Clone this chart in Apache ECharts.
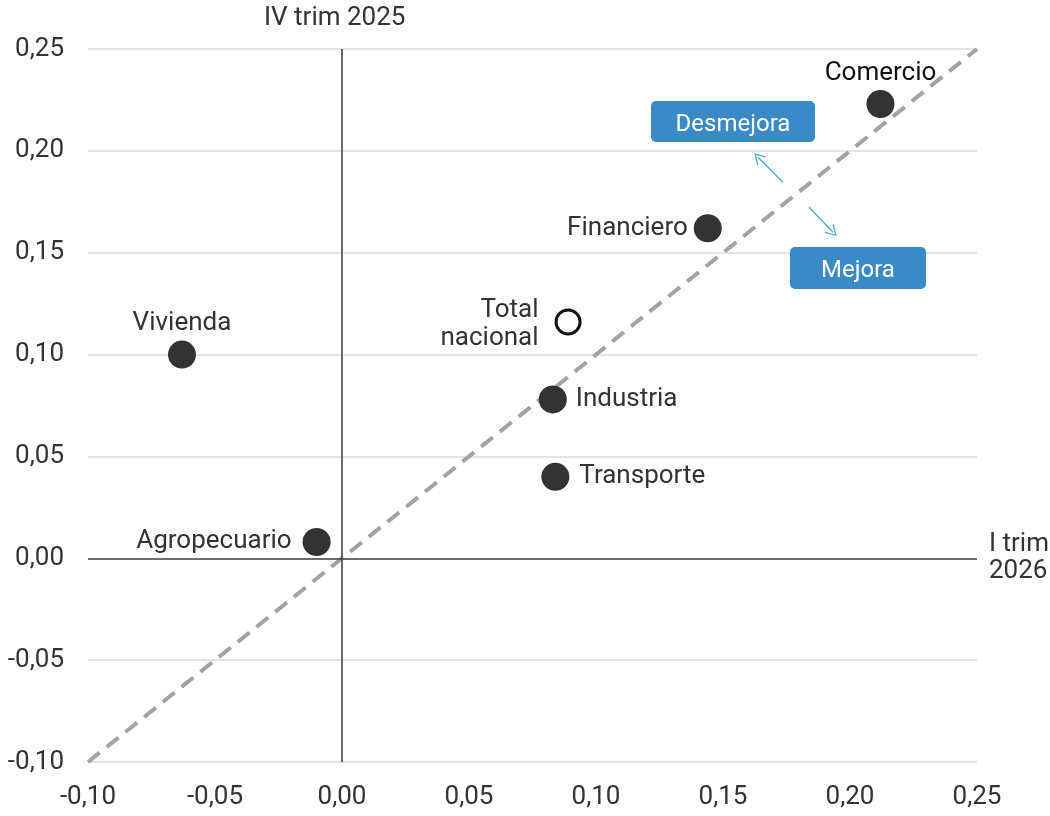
<!DOCTYPE html>
<html>
<head>
<meta charset="utf-8">
<script src="https://cdn.jsdelivr.net/npm/echarts@6/dist/echarts.min.js"></script>
<style>
  html, body { margin: 0; padding: 0; background: #fff; }
  #main { width: 1050px; height: 816px; }
</style>
</head>
<body>
<div id="main"></div>
<script>
// sectores: x = I trim 2026, y = IV trim 2025
var sectores = ['Comercio', 'Financiero', 'Total nacional', 'Industria', 'Transporte', 'Vivienda', 'Agropecuario'];
var valoresX = [0.212, 0.144, 0.089, 0.083, 0.084, -0.063, -0.010];
var valoresY = [0.223, 0.162, 0.116, 0.078, 0.040, 0.100, 0.008];

var ejeMin = -0.10;
var ejeMax = 0.25;
var paso = 0.05;

// diagonal de referencia (x = y)
var diagonal = [[-0.10, -0.10], [0.25, 0.25]];

// flechas entre Desmejora y Mejora
var flechaArriba = [[0.1736, 0.1846], [0.1638, 0.1969]];
var flechaAbajo = [[0.1839, 0.1723], [0.1933, 0.1600]];

var fuente = 'Roboto';

function fmt(v) {
  if (Math.abs(v) < 1e-9) return '0,00';
  return v.toFixed(2).replace('.', ',');
}

// posicion de etiquetas por sector
var etiquetas = {
  'Comercio': { position: 'top', distance: 4, color: '#111' },
  'Financiero': { position: 'left', distance: 6 },
  'Total nacional': { position: 'left', distance: 16, align: 'right', formatter: 'Total\nnacional', lineHeight: 28, offset: [0, 3] },
  'Industria': { position: 'right', distance: 9 },
  'Transporte': { position: 'right', distance: 10 },
  'Vivienda': { position: 'top', distance: 4 },
  'Agropecuario': { position: 'left', distance: 11 }
};

var puntos = sectores.map(function (s, i) {
  var p = {
    name: s,
    value: [valoresX[i], valoresY[i]],
    label: etiquetas[s]
  };
  if (s === 'Total nacional') {
    p.symbolSize = 24;
    p.itemStyle = { color: '#fff', borderColor: '#111', borderWidth: 3, opacity: 1 };
  }
  return p;
});

var chevron = 'path://M0,10 L5,0 L10,10 L8.8,10 L5,2.4 L1.2,10 Z';

var myChart = echarts.init(document.getElementById('main'));
myChart.setOption({
  backgroundColor: '#fff',
  animation: false,
  textStyle: { fontFamily: fuente },
  grid: { left: 88, right: 73, top: 49, bottom: 54 },
  xAxis: {
    type: 'value',
    min: ejeMin,
    max: ejeMax,
    interval: paso,
    axisLine: { show: false },
    axisTick: { show: false },
    splitLine: { show: false },
    axisLabel: { formatter: fmt, fontSize: 26, color: '#333', margin: 22, fontFamily: fuente }
  },
  yAxis: {
    type: 'value',
    min: ejeMin,
    max: ejeMax,
    interval: paso,
    axisLine: { show: false },
    axisTick: { show: false },
    splitLine: { show: true, lineStyle: { color: '#dcdcdc', width: 1.5 } },
    axisLabel: { formatter: fmt, fontSize: 26, color: '#333', margin: 24, fontFamily: fuente }
  },
  series: [
    {
      name: 'Diagonal',
      type: 'line',
      data: diagonal,
      symbol: 'none',
      silent: true,
      lineStyle: { color: '#a3a3a3', width: 4, type: [15, 9] },
      z: 2,
      markLine: {
        silent: true,
        symbol: 'none',
        label: { show: false },
        lineStyle: { color: '#444', width: 1.6, type: 'solid' },
        data: [{ xAxis: 0 }, { yAxis: 0 }]
      }
    },
    {
      name: 'Flechas',
      type: 'line',
      data: [],
      markLine: {
        silent: true,
        symbol: ['none', chevron],
        symbolSize: [13, 11],
        label: { show: false },
        lineStyle: { color: '#5aa9dc', width: 1.5, type: 'solid' },
        data: [
          [{ coord: flechaArriba[0] }, { coord: flechaArriba[1] }],
          [{ coord: flechaAbajo[0] }, { coord: flechaAbajo[1] }]
        ]
      }
    },
    {
      name: 'Sectores',
      type: 'scatter',
      data: puntos,
      symbolSize: 28,
      itemStyle: { color: '#333', opacity: 1 },
      z: 5,
      label: {
        show: true,
        formatter: '{b}',
        fontSize: 26,
        color: '#333',
        fontFamily: fuente
      }
    }
  ],
  graphic: [
    {
      type: 'text', left: 264, top: 5, z: 100,
      style: { text: 'IV trim 2025', fontSize: 26, fill: '#333', fontFamily: fuente }
    },
    {
      type: 'text', left: 989, top: 531, z: 100,
      style: { text: 'I trim\n2026', fontSize: 26, lineHeight: 27, fill: '#333', fontFamily: fuente }
    },
    {
      type: 'group', left: 651, top: 101, z: 100,
      children: [
        { type: 'rect', z: 100, shape: { x: 0, y: 0, width: 164, height: 41, r: 5 }, style: { fill: '#3a8ac6' } },
        { type: 'text', z: 101, x: 82, y: 24, style: { text: 'Desmejora', fontSize: 24, fill: '#fff', align: 'center', verticalAlign: 'middle', fontFamily: fuente } }
      ]
    },
    {
      type: 'group', left: 790, top: 247, z: 100,
      children: [
        { type: 'rect', z: 100, shape: { x: 0, y: 0, width: 136, height: 42, r: 5 }, style: { fill: '#3a8ac6' } },
        { type: 'text', z: 101, x: 68, y: 24, style: { text: 'Mejora', fontSize: 24, fill: '#fff', align: 'center', verticalAlign: 'middle', fontFamily: fuente } }
      ]
    }
  ]
});
</script>
</body>
</html>
